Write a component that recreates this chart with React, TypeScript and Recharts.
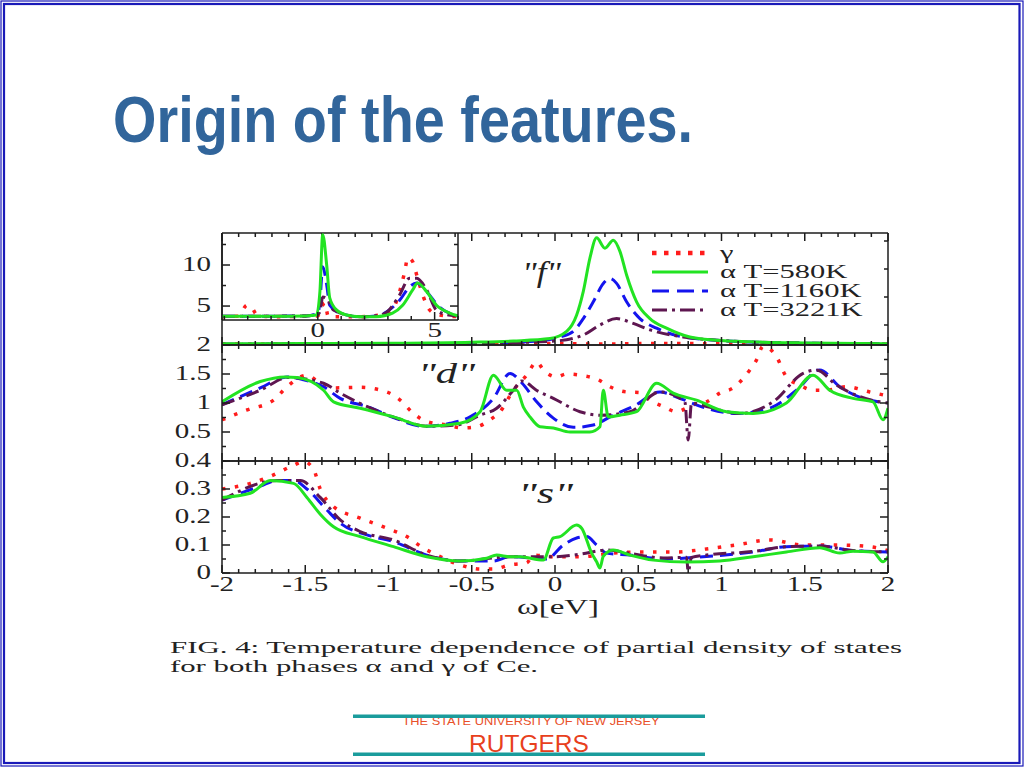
import React from 'react';
import { LineChart, Line, XAxis, YAxis, Legend } from 'recharts';

type P = [number, number][];

// ---------- series meta ----------
const seriesNames = ['γ', 'α T=580K', 'α T=1160K', 'α T=3221K'];
const seriesColors = ['#ff1c1c', '#22e322', '#1414ee', '#5e1650'];
const seriesDash = ['3.5 9.5', '', '13 7', '13 5 3 5'];
const seriesWidth = [3.5, 3, 3, 3];
const legendDash = ['4.5 7.5', '', '17 8', '15 5 3 5'];
const drawOrder = [0, 2, 3, 1];

// ---------- tick labels ----------
const xTickValues = [-2, -1.5, -1, -0.5, 0, 0.5, 1, 1.5, 2];
const xTickLabels = ['-2', '-1.5', '-1', '-0.5', '0', '0.5', '1', '1.5', '2'];
const dTickValues = [0.5, 1, 1.5, 2];
const dTickLabels = ['0.5', '1', '1.5', '2'];
const sTickValues = [0, 0.1, 0.2, 0.3, 0.4];
const sTickLabels = ['0', '0.1', '0.2', '0.3', '0.4'];
const fLabelTickValues = [0, 5, 10];
const fLabelTickLabels = ['0', '5', '10'];
const fRightTicks = [2.5, 6, 9.5, 13];
const insetXTickValues = [0, 5];
const insetXTickLabels = ['0', '5'];
const insetYTickValues = [5, 10];
const insetYTickLabels = ['5', '10'];
const insetYMinor = [5, 7.5, 10, 12.5];
const insetXMinor = [-4, -3, -2, -1, 0, 1, 2, 3, 4, 5, 6];

// ---------- "f" panel ----------
const fGamma: P = [[-2, 0.15], [-1.5, 0.12], [-1, 0.15], [-0.5, 0.12], [0, 0.18], [0.3, 0.12], [0.6, 0.2], [1.3, 0.12], [2, 0.12]];
const fAlpha580: P = [[-2, 0.15], [-1.5, 0.18], [-1, 0.22], [-0.5, 0.35], [-0.25, 0.5], [-0.03, 0.8], [0.07, 1.7], [0.13, 3.75], [0.17, 6.7], [0.21, 10.9], [0.25, 13.4], [0.3, 12.1], [0.35, 13.1], [0.39, 11.7], [0.43, 8.75], [0.49, 5.4], [0.57, 3.3], [0.67, 2.1], [0.81, 1.0], [0.97, 0.6], [1.17, 0.4], [1.5, 0.25], [2, 0.15]];
const fAlpha1160: P = [[-2, 0.1], [-1, 0.15], [-0.5, 0.2], [-0.1, 0.5], [0.03, 1.0], [0.11, 1.7], [0.17, 3.3], [0.23, 5.4], [0.29, 7.7], [0.33, 8.3], [0.37, 7.7], [0.43, 5.4], [0.51, 3.3], [0.61, 2.1], [0.77, 1.0], [0.97, 0.6], [1.3, 0.3], [2, 0.15]];
const fAlpha3221: P = [[-2, 0.1], [-1, 0.15], [-0.5, 0.2], [0, 0.5], [0.17, 1.25], [0.27, 2.5], [0.37, 3.3], [0.47, 2.7], [0.57, 1.9], [0.77, 1.0], [0.97, 0.6], [1.3, 0.3], [2, 0.15]];

// ---------- inset ----------
const iGamma: P = [[-4.1, 3.7], [-3.4, 3.8], [-3.03, 5.1], [-2.82, 4.8], [-2.6, 3.9], [-2, 3.7], [0, 3.8], [0.15, 4.8], [0.3, 5.4], [0.45, 3.7], [1.79, 3.7], [2.8, 4.0], [3.2, 4.6], [3.5, 6.75], [3.72, 9.2], [3.85, 10.9], [4.06, 10.4], [4.27, 8.4], [4.49, 6.35], [4.79, 4.5], [5.2, 3.9], [6, 3.7]];
const iAlpha580: P = [[-4.1, 3.75], [-2, 3.75], [-0.5, 3.8], [-0.06, 3.9], [0.09, 6.75], [0.21, 13.7], [0.38, 10], [0.51, 6], [0.81, 4.5], [1.24, 3.9], [1.79, 3.7], [2.5, 3.7], [3.2, 4.15], [3.63, 5.1], [4.06, 6.96], [4.27, 7.8], [4.66, 6.75], [5.08, 5.1], [5.64, 4.15], [6, 3.8]];
const iAlpha1160: P = [[-4.1, 3.75], [-0.5, 3.8], [0, 4.1], [0.09, 5.5], [0.21, 9.8], [0.38, 7.6], [0.51, 5.1], [0.94, 4.15], [1.79, 3.7], [2.5, 3.8], [2.95, 4.3], [3.5, 5.7], [3.93, 7.35], [4.23, 7.8], [4.66, 6.75], [5.2, 4.9], [5.8, 3.95], [6, 3.8]];
const iAlpha3221: P = [[-4.1, 3.75], [-0.5, 3.8], [0, 4.0], [0.09, 4.3], [0.21, 6.1], [0.38, 5.9], [0.68, 4.5], [1.79, 3.7], [2.5, 3.8], [2.95, 4.25], [3.5, 6.35], [3.93, 8.4], [4.23, 8.4], [4.66, 6.96], [5.08, 4.5], [5.6, 3.9], [6, 3.8]];

// ---------- "d" panel ----------
const dGamma: P = [[-2, 0.71], [-1.85, 0.88], [-1.69, 1.05], [-1.61, 1.28], [-1.49, 1.48], [-1.41, 1.34], [-1.33, 1.26], [-1.17, 1.27], [-1.01, 1.19], [-0.93, 1.05], [-0.85, 0.82], [-0.77, 0.68], [-0.65, 0.62], [-0.55, 0.57], [-0.47, 0.59], [-0.39, 0.71], [-0.33, 0.85], [-0.25, 1.22], [-0.17, 1.48], [-0.11, 1.71], [-0.07, 1.57], [0.01, 1.45], [0.07, 1.5], [0.17, 1.47], [0.26, 1.4], [0.33, 1.28], [0.43, 1.19], [0.51, 1.18], [0.57, 1.05], [0.65, 0.94], [0.73, 0.85], [0.83, 0.97], [0.91, 1.02], [0.99, 1.17], [1.07, 1.26], [1.17, 1.57], [1.21, 1.74], [1.25, 1.98], [1.33, 1.8], [1.39, 1.45], [1.47, 1.31], [1.55, 1.22], [1.63, 1.22], [1.75, 1.28], [1.89, 1.19], [1.97, 1.14], [2, 1.12]];
const dAlpha580: P = [[-2, 1.02], [-1.77, 1.37], [-1.62, 1.45], [-1.55, 1.44], [-1.39, 1.22], [-1.33, 1.02], [-1.17, 0.91], [-0.97, 0.76], [-0.77, 0.6], [-0.57, 0.65], [-0.45, 0.85], [-0.37, 1.48], [-0.29, 1.22], [-0.23, 1.22], [-0.19, 0.93], [-0.15, 0.76], [-0.09, 0.59], [-0.01, 0.57], [0.09, 0.5], [0.21, 0.5], [0.27, 0.59], [0.29, 1.22], [0.32, 0.76], [0.39, 0.79], [0.49, 0.85], [0.61, 1.34], [0.71, 1.17], [0.85, 1.05], [1.03, 0.85], [1.19, 0.82], [1.39, 1.0], [1.55, 1.48], [1.65, 1.22], [1.79, 1.08], [1.91, 1.02], [1.97, 0.71], [2, 0.91]];
const dAlpha1160: P = [[-2, 0.97], [-1.77, 1.26], [-1.61, 1.45], [-1.51, 1.4], [-1.39, 1.28], [-1.29, 1.08], [-1.13, 0.94], [-0.97, 0.75], [-0.79, 0.6], [-0.63, 0.65], [-0.51, 0.76], [-0.37, 1.08], [-0.27, 1.51], [-0.2, 1.35], [-0.11, 1.02], [-0.01, 0.74], [0.11, 0.58], [0.23, 0.62], [0.35, 0.79], [0.47, 0.94], [0.63, 1.19], [0.75, 1.08], [0.91, 0.91], [1.09, 0.82], [1.29, 0.91], [1.45, 1.22], [1.59, 1.57], [1.71, 1.28], [1.85, 1.08], [2, 1.0]];
const dAlpha3221: P = [[-2, 0.97], [-1.77, 1.22], [-1.6, 1.44], [-1.39, 1.34], [-1.29, 1.17], [-1.13, 0.94], [-0.93, 0.72], [-0.77, 0.6], [-0.59, 0.62], [-0.45, 0.79], [-0.35, 0.91], [-0.25, 1.22], [-0.2, 1.38], [-0.1, 1.2], [-0.01, 1.08], [0.15, 0.85], [0.27, 0.79], [0.45, 0.85], [0.63, 1.19], [0.78, 1.02], [0.8, 0.36], [0.82, 1.0], [0.91, 0.94], [1.11, 0.82], [1.31, 1.02], [1.49, 1.51], [1.57, 1.57], [1.69, 1.31], [1.95, 1.02], [2, 1.0]];

// ---------- "s" panel ----------
const sGamma: P = [[-2, 0.3], [-1.83, 0.32], [-1.71, 0.345], [-1.57, 0.385], [-1.51, 0.398], [-1.45, 0.37], [-1.41, 0.3], [-1.33, 0.237], [-1.17, 0.196], [-1.01, 0.16], [-0.89, 0.13], [-0.79, 0.089], [-0.71, 0.064], [-0.57, 0.029], [-0.45, 0.014], [-0.37, 0.014], [-0.27, 0.029], [-0.17, 0.036], [-0.13, 0.064], [-0.01, 0.058], [0.15, 0.058], [0.35, 0.071], [0.53, 0.075], [0.73, 0.075], [0.91, 0.086], [1.09, 0.1], [1.29, 0.118], [1.49, 0.1], [1.69, 0.1], [1.89, 0.094], [2, 0.08]];
const sAlpha580: P = [[-2, 0.27], [-1.83, 0.285], [-1.71, 0.33], [-1.57, 0.32], [-1.49, 0.27], [-1.41, 0.21], [-1.33, 0.165], [-1.17, 0.13], [-0.97, 0.094], [-0.77, 0.058], [-0.57, 0.043], [-0.41, 0.053], [-0.35, 0.064], [-0.27, 0.058], [-0.21, 0.058], [-0.07, 0.046], [-0.01, 0.125], [0.03, 0.13], [0.13, 0.171], [0.16, 0.16], [0.22, 0.071], [0.25, 0.04], [0.27, 0.018], [0.29, 0.06], [0.35, 0.082], [0.45, 0.064], [0.59, 0.046], [0.79, 0.039], [0.99, 0.043], [1.19, 0.058], [1.39, 0.075], [1.59, 0.09], [1.71, 0.071], [1.79, 0.078], [1.91, 0.075], [1.97, 0.04], [2, 0.058]];
const sAlpha1160: P = [[-2, 0.26], [-1.77, 0.31], [-1.67, 0.33], [-1.57, 0.33], [-1.49, 0.3], [-1.37, 0.225], [-1.29, 0.178], [-1.13, 0.136], [-0.97, 0.112], [-0.77, 0.064], [-0.57, 0.043], [-0.37, 0.043], [-0.27, 0.058], [-0.05, 0.05], [0.05, 0.1], [0.13, 0.125], [0.19, 0.13], [0.25, 0.1], [0.31, 0.071], [0.45, 0.064], [0.65, 0.05], [0.89, 0.058], [1.19, 0.075], [1.39, 0.094], [1.59, 0.096], [1.79, 0.08], [2, 0.075]];
const sAlpha3221: P = [[-2, 0.26], [-1.67, 0.33], [-1.53, 0.33], [-1.41, 0.27], [-1.29, 0.19], [-1.17, 0.148], [-0.97, 0.118], [-0.77, 0.064], [-0.57, 0.043], [-0.27, 0.058], [-0.01, 0.058], [0.15, 0.067], [0.31, 0.082], [0.45, 0.07], [0.65, 0.054], [0.79, 0.056], [0.8, 0.005], [0.82, 0.056], [0.91, 0.064], [1.19, 0.077], [1.39, 0.094], [1.59, 0.096], [1.79, 0.08], [2, 0.075]];

// ---------- helpers ----------
const AXIS = '#1c1c1c';
const SERIF = "'Liberation Serif','Times New Roman',serif";
const SANS = "'Liberation Sans',Arial,sans-serif";
const toPts = (a: P) => a.map(([x, y]) => ({ x, y }));
const steps = (from: number, to: number, step: number) => {
  const out: number[] = [];
  const n = Math.round((to - from) / step);
  for (let i = 0; i <= n; i++) out.push(Math.round((from + i * step) * 1000) / 1000);
  return out;
};
const xMinor = steps(-2, 2, 0.1);
const dMinor = steps(0, 2, 0.25);
const sMinor = steps(0, 0.4, 0.05);

type Side = 'bottom' | 'top' | 'left' | 'right';

function mkTick(side: Side, majors: number[], labels?: string[], dy = 18, sx = 1.45, fs = 20) {
  const TickShape = (props: any) => {
    const { x, y, payload } = props;
    const v = Number(payload?.value);
    const idx = majors.findIndex((m) => Math.abs(m - v) < 1e-6);
    const len = idx >= 0 ? 8 : 4;
    let x2 = x;
    let y2 = y;
    if (side === 'bottom') y2 = y - len;
    else if (side === 'top') y2 = y + len;
    else if (side === 'left') x2 = x + len;
    else x2 = x - len;
    let label: React.ReactNode = null;
    if (labels && idx >= 0) {
      if (side === 'bottom') {
        label = (
          <text transform={`translate(${x},${y + dy}) scale(${sx},1)`} textAnchor="middle" fontFamily={SERIF} fontSize={fs} fill="#222">
            {labels[idx]}
          </text>
        );
      } else if (side === 'left') {
        label = (
          <text transform={`translate(${x - 11},${y + 6}) scale(${sx},1)`} textAnchor="end" fontFamily={SERIF} fontSize={fs} fill="#222">
            {labels[idx]}
          </text>
        );
      }
    }
    return (
      <g>
        <line x1={x} y1={y} x2={x2} y2={y2} stroke={AXIS} strokeWidth={1.5} />
        {label}
      </g>
    );
  };
  return TickShape;
}

const FLabelTick = (props: any) => {
  const { y, payload } = props;
  const idx = fLabelTickValues.findIndex((m) => Math.abs(m - Number(payload?.value)) < 1e-6);
  if (idx < 0) return <g />;
  return (
    <text transform={`translate(467,${y + 7}) scale(1.45,1)`} textAnchor="start" fontFamily={SERIF} fontSize={20} fill="#222">
      {fLabelTickLabels[idx]}
    </text>
  );
};

const LegendContent = () => (
  <svg width={250} height={80} style={{ overflow: 'visible' }}>
    {seriesNames.map((n, i) => {
      const y = 12 + i * 19;
      return (
        <g key={n}>
          <line x1={6} x2={62} y1={y} y2={y} stroke={seriesColors[i]} strokeWidth={i === 0 ? 4.5 : 3.2} strokeDasharray={legendDash[i] || undefined} />
          <text transform={`translate(74,${y + 6}) scale(1.85,1.1)`} fontFamily={SERIF} fontSize={16.5} fill="#222">
            {n}
          </text>
        </g>
      );
    })}
  </svg>
);

const axisLineStyle = { stroke: AXIS, strokeWidth: 1.5 };

type PanelProps = {
  top: number;
  bottom: number;
  left: number;
  right: number;
  xDomain: [number, number];
  xTicks: number[];
  xMajors: number[];
  xLabels?: string[];
  xLabelDy?: number;
  showTop: boolean;
  yDomain: [number, number];
  yTicks?: number[];
  yMajors: number[];
  yLabels?: string[];
  rightTicks: number[];
  data: P[];
  extraLeft?: number;
  extra?: React.ReactNode;
};

function Panel(p: PanelProps) {
  const margin = {
    top: p.top - (p.showTop ? 1 : 0),
    bottom: 768 - p.bottom - 1,
    left: p.left - 1 - (p.extraLeft ?? 0),
    right: 1024 - p.right - 1,
  };
  return (
    <div style={{ position: 'absolute', left: 0, top: 0, pointerEvents: 'none' }}>
      <LineChart width={1024} height={768} margin={margin}>
        <XAxis xAxisId="b" type="number" dataKey="x" domain={p.xDomain} ticks={p.xTicks} interval={0} tickSize={0} tickMargin={0} tickLine={false} axisLine={axisLineStyle} height={1} allowDataOverflow tick={mkTick('bottom', p.xMajors, p.xLabels, p.xLabelDy ?? 18)} />
        {p.showTop && (
          <XAxis xAxisId="t" orientation="top" type="number" dataKey="x" domain={p.xDomain} ticks={p.xTicks} interval={0} tickSize={0} tickMargin={0} tickLine={false} axisLine={axisLineStyle} height={1} allowDataOverflow tick={mkTick('top', p.xMajors)} />
        )}
        <YAxis yAxisId="l" type="number" domain={p.yDomain} ticks={p.yTicks} interval={0} tickSize={0} tickMargin={0} tickLine={false} axisLine={axisLineStyle} width={1} allowDataOverflow tick={p.yTicks ? mkTick('left', p.yMajors, p.yLabels) : false} />
        <YAxis yAxisId="r" orientation="right" type="number" domain={p.yDomain} ticks={p.rightTicks} interval={0} tickSize={0} tickMargin={0} tickLine={false} axisLine={axisLineStyle} width={1} allowDataOverflow tick={mkTick('right', p.yMajors)} />
        {drawOrder.map((i) => (
          <Line
            key={seriesNames[i]}
            name={seriesNames[i]}
            xAxisId="b"
            yAxisId="l"
            data={toPts(p.data[i])}
            dataKey="y"
            type="monotone"
            stroke={seriesColors[i]}
            strokeWidth={seriesWidth[i]}
            strokeDasharray={seriesDash[i] || undefined}
            dot={false}
            activeDot={false}
            isAnimationActive={false}
          />
        ))}
        {p.extra}
      </LineChart>
    </div>
  );
}

export default function App() {
  return (
    <div style={{ position: 'absolute', left: 0, top: 0, width: 1024, height: 768, background: '#fff', overflow: 'hidden' }}>
      <svg width={1024} height={768} style={{ position: 'absolute', left: 0, top: 0 }}>
        <rect x={1} y={1} width={1022} height={765} fill="none" stroke="#1a1ab8" strokeWidth={1.2} />
        <rect x={4} y={4} width={1015.5} height={759} fill="none" stroke="#1a1ab8" strokeWidth={2.2} />
        <text x={113} y={142} fontSize={65} fontWeight="bold" fill="#31659b" fontFamily="'Liberation Sans Narrow','Arial Narrow','Liberation Sans',Arial,sans-serif" textLength={580} lengthAdjust="spacingAndGlyphs">
          Origin of the features.
        </text>
        <text x={522} y={282} fontSize={29} fontStyle="italic" fontFamily={SERIF} fill="#222" textLength={39} lengthAdjust="spacingAndGlyphs">"f"</text>
        <text x={418} y={383} fontSize={29} fontStyle="italic" fontFamily={SERIF} fill="#222" textLength={57} lengthAdjust="spacingAndGlyphs">"d"</text>
        <text x={518} y={503} fontSize={29} fontStyle="italic" fontFamily={SERIF} fill="#222" textLength={55} lengthAdjust="spacingAndGlyphs">"s"</text>
        <text x={517} y={614} fontSize={20} fontFamily={SERIF} fill="#222" textLength={82} lengthAdjust="spacingAndGlyphs">ω[eV]</text>
        <text x={170} y={653} fontSize={16} fontFamily={SERIF} fill="#222" textLength={732} lengthAdjust="spacingAndGlyphs">
          FIG. 4: Temperature dependence of partial density of states
        </text>
        <text x={170} y={672} fontSize={16} fontFamily={SERIF} fill="#222" textLength={368} lengthAdjust="spacingAndGlyphs">
          for both phases α and γ of Ce.
        </text>
        <text x={531} y={725} fontSize={11} fontFamily={SANS} fill="#e8502a" textAnchor="middle" textLength={257} lengthAdjust="spacingAndGlyphs">
          THE STATE UNIVERSITY OF NEW JERSEY
        </text>
        <text x={529} y={752} fontSize={24.5} fontFamily={SANS} fill="#e8401c" textAnchor="middle">
          RUTGERS
        </text>
        <rect x={353} y={714.5} width={352} height={3.5} fill="#1a9c9c" />
        <rect x={353} y={752.5} width={352} height={3.5} fill="#1a9c9c" />
      </svg>

      {/* "f" panel */}
      <Panel
        top={233}
        bottom={345}
        left={222}
        right={888}
        xDomain={[-2, 2]}
        xTicks={xMinor}
        xMajors={xTickValues}
        showTop
        yDomain={[0, 14]}
        yMajors={[]}
        rightTicks={fRightTicks}
        data={[fGamma, fAlpha580, fAlpha1160, fAlpha3221]}
        extraLeft={1}
        extra={[
          <YAxis key="lab" yAxisId="lab" type="number" domain={[-4.03, 14.03]} ticks={fLabelTickValues} interval={0} tickSize={0} tickMargin={0} tickLine={false} axisLine={false} width={1} tick={FLabelTick} />,
          <Legend key="leg" layout="vertical" align="center" verticalAlign="middle" wrapperStyle={{ position: 'absolute', left: 646, top: 241, width: 250, height: 80 }} content={LegendContent} />,
        ]}
      />

      {/* inset */}
      <Panel
        top={233}
        bottom={320}
        left={222}
        right={458}
        xDomain={[-4.1, 6]}
        xTicks={insetXMinor}
        xMajors={insetXTickValues}
        xLabels={insetXTickLabels}
        xLabelDy={17}
        showTop={false}
        yDomain={[3.3, 13.9]}
        yTicks={insetYMinor}
        yMajors={insetYTickValues}
        yLabels={insetYTickLabels}
        rightTicks={insetYMinor}
        data={[iGamma, iAlpha580, iAlpha1160, iAlpha3221]}
      />

      {/* "d" panel */}
      <Panel
        top={345}
        bottom={461}
        left={222}
        right={888}
        xDomain={[-2, 2]}
        xTicks={xMinor}
        xMajors={xTickValues}
        showTop
        yDomain={[0, 2]}
        yTicks={dMinor}
        yMajors={dTickValues}
        yLabels={dTickLabels}
        rightTicks={dMinor}
        data={[dGamma, dAlpha580, dAlpha1160, dAlpha3221]}
      />

      {/* "s" panel */}
      <Panel
        top={461}
        bottom={573}
        left={222}
        right={888}
        xDomain={[-2, 2]}
        xTicks={xMinor}
        xMajors={xTickValues}
        xLabels={xTickLabels}
        showTop
        yDomain={[0, 0.4]}
        yTicks={sMinor}
        yMajors={sTickValues}
        yLabels={sTickLabels}
        rightTicks={sMinor}
        data={[sGamma, sAlpha580, sAlpha1160, sAlpha3221]}
      />
    </div>
  );
}
